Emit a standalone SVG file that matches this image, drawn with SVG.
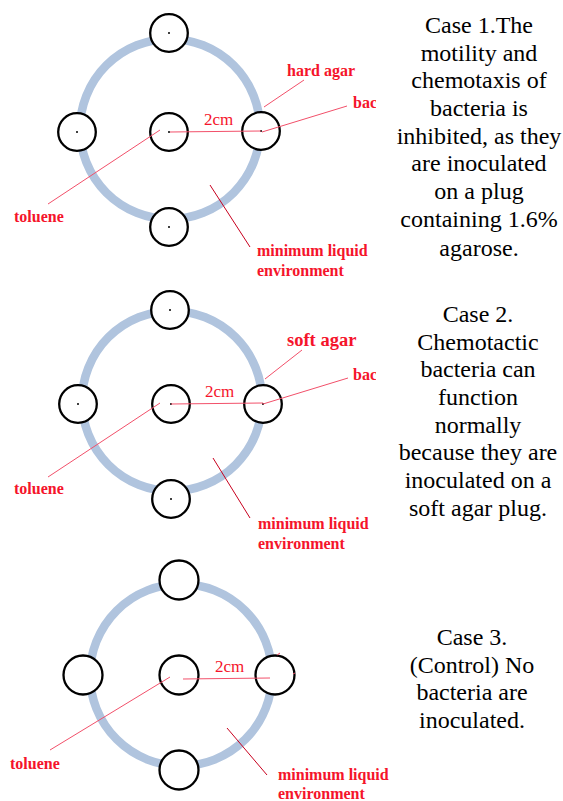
<svg xmlns="http://www.w3.org/2000/svg" width="563" height="801" viewBox="0 0 563 801">
<style>
.ring{fill:none;stroke:#b0c4de;stroke-width:8.5}
.plug{fill:#fff;stroke:#000;stroke-width:2.3}
.dot{fill:#000}
.lbl{font-family:"Liberation Serif","Times New Roman",serif;font-weight:bold;font-size:16px;fill:#f5142b}
.big{font-size:18.5px}
.cm{font-family:"Liberation Serif","Times New Roman",serif;font-size:17px;fill:#f5142b}
.ln{stroke:#f2506a;stroke-width:1;fill:none}
.dk{stroke:#c8001e;stroke-width:1;fill:none}
.desc{font-family:"Liberation Serif","Times New Roman",serif;font-size:24px;fill:#000;text-anchor:middle}
</style>
<defs>
<clipPath id="cut"><rect x="0" y="0" width="376" height="801"/></clipPath>
</defs>
<rect width="563" height="801" fill="#fff"/>

<!-- Case 1 -->
<g id="case1">
<circle class="ring" cx="170" cy="129" r="90"/>
<g id="c1-top"><circle class="plug" cx="169" cy="33" r="18.8"/><circle class="dot" cx="169" cy="33" r="1"/></g>
<g id="c1-left"><circle class="plug" cx="77" cy="132" r="18.8"/><circle class="dot" cx="77" cy="132" r="1"/></g>
<g id="c1-center"><circle class="plug" cx="169" cy="132" r="18.8"/><circle class="dot" cx="169" cy="132" r="1"/></g>
<g id="c1-right"><circle class="plug" cx="261" cy="131" r="18.8"/><circle class="dot" cx="261" cy="131" r="1"/></g>
<g id="c1-bottom"><circle class="plug" cx="169" cy="227" r="18.8"/><circle class="dot" cx="169" cy="227" r="1"/></g>
<text class="lbl" x="287" y="76">hard agar</text>
<text class="lbl" x="353" y="108" clip-path="url(#cut)">bac</text>
<text class="cm" x="204" y="125">2cm</text>
<text class="lbl" x="14" y="222">toluene</text>
<text class="lbl" x="257" y="256">minimum liquid</text>
<text class="lbl" x="257" y="276">environment</text>
<text class="desc" x="479" y="33">Case 1.The</text>
<text class="desc" x="479" y="61">motility and</text>
<text class="desc" x="479" y="88">chemotaxis of</text>
<text class="desc" x="479" y="116">bacteria is</text>
<text class="desc" x="479" y="144">inhibited, as they</text>
<text class="desc" x="479" y="171">are inoculated</text>
<text class="desc" x="479" y="199">on a plug</text>
<text class="desc" x="479" y="227">containing 1.6%</text>
<text class="desc" x="479" y="256">agarose.</text>
</g>

<!-- Case 2 -->
<g id="case2">
<circle class="ring" cx="172" cy="401" r="90"/>
<g id="c2-top"><circle class="plug" cx="170" cy="310" r="18.8"/><circle class="dot" cx="170" cy="310" r="1"/></g>
<g id="c2-left"><circle class="plug" cx="78" cy="404" r="18.8"/><circle class="dot" cx="78" cy="404" r="1"/></g>
<g id="c2-center"><circle class="plug" cx="171" cy="404" r="18.8"/><circle class="dot" cx="171" cy="404" r="1"/></g>
<g id="c2-right"><circle class="plug" cx="263" cy="404" r="18.8"/><circle class="dot" cx="263" cy="404" r="1"/></g>
<g id="c2-bottom"><circle class="plug" cx="171" cy="499" r="18.8"/><circle class="dot" cx="171" cy="499" r="1"/></g>
<text class="lbl big" x="287" y="346">soft agar</text>
<text class="lbl" x="353" y="380" clip-path="url(#cut)">bac</text>
<text class="cm" x="205" y="397">2cm</text>
<text class="lbl" x="14" y="494">toluene</text>
<text class="lbl" x="258" y="529">minimum liquid</text>
<text class="lbl" x="258" y="549">environment</text>
<text class="desc" x="478" y="322">Case 2.</text>
<text class="desc" x="478" y="350">Chemotactic</text>
<text class="desc" x="478" y="377">bacteria can</text>
<text class="desc" x="478" y="405">function</text>
<text class="desc" x="478" y="433">normally</text>
<text class="desc" x="478" y="460">because they are</text>
<text class="desc" x="478" y="488">inoculated on a</text>
<text class="desc" x="478" y="516">soft agar plug.</text>
</g>

<!-- Case 3 -->
<g id="case3">
<circle class="ring" cx="181" cy="675" r="91"/>
<g id="c3-top"><circle class="plug" cx="179" cy="580" r="19.5"/></g>
<g id="c3-left"><circle class="plug" cx="83" cy="675" r="19.5"/></g>
<g id="c3-center"><circle class="plug" cx="179" cy="675" r="19.5"/></g>
<g id="c3-right"><circle class="plug" cx="275" cy="675" r="19.5"/></g>
<g id="c3-bottom"><circle class="plug" cx="179" cy="770" r="19.5"/></g>
<text class="cm" x="215" y="672">2cm</text>
<text class="lbl" x="10" y="769">toluene</text>
<text class="lbl" x="278" y="780">minimum liquid</text>
<text class="lbl" x="278" y="799">environment</text>
<text class="desc" x="472" y="645">Case 3.</text>
<text class="desc" x="472" y="673">(Control) No</text>
<text class="desc" x="472" y="700">bacteria are</text>
<text class="desc" x="472" y="728">inoculated.</text>
</g>

<g id="connectors">
<line class="ln" x1="264" y1="107" x2="304" y2="80"/>
<line class="ln" x1="262" y1="132" x2="347" y2="106"/>
<line class="ln" x1="170" y1="132" x2="261" y2="131"/>
<line class="ln" x1="160" y1="130" x2="48" y2="204"/>
<line class="dk" x1="210" y1="185" x2="250" y2="247"/>

<line class="ln" x1="265" y1="379" x2="302" y2="350"/>
<line class="ln" x1="263" y1="404" x2="348" y2="378"/>
<line class="ln" x1="171" y1="404" x2="263" y2="403"/>
<line class="ln" x1="160" y1="403" x2="48" y2="477"/>
<line class="dk" x1="213" y1="458" x2="250" y2="518"/>

<line class="ln" x1="183" y1="679" x2="270" y2="678"/>
<line class="ln" x1="170" y1="677" x2="50" y2="750"/>
<line class="dk" x1="227" y1="728" x2="267" y2="775"/>
<line class="ln" x1="277" y1="655" x2="280" y2="653"/>
<line class="ln" x1="293" y1="674" x2="295" y2="673"/>
</g>
</svg>
